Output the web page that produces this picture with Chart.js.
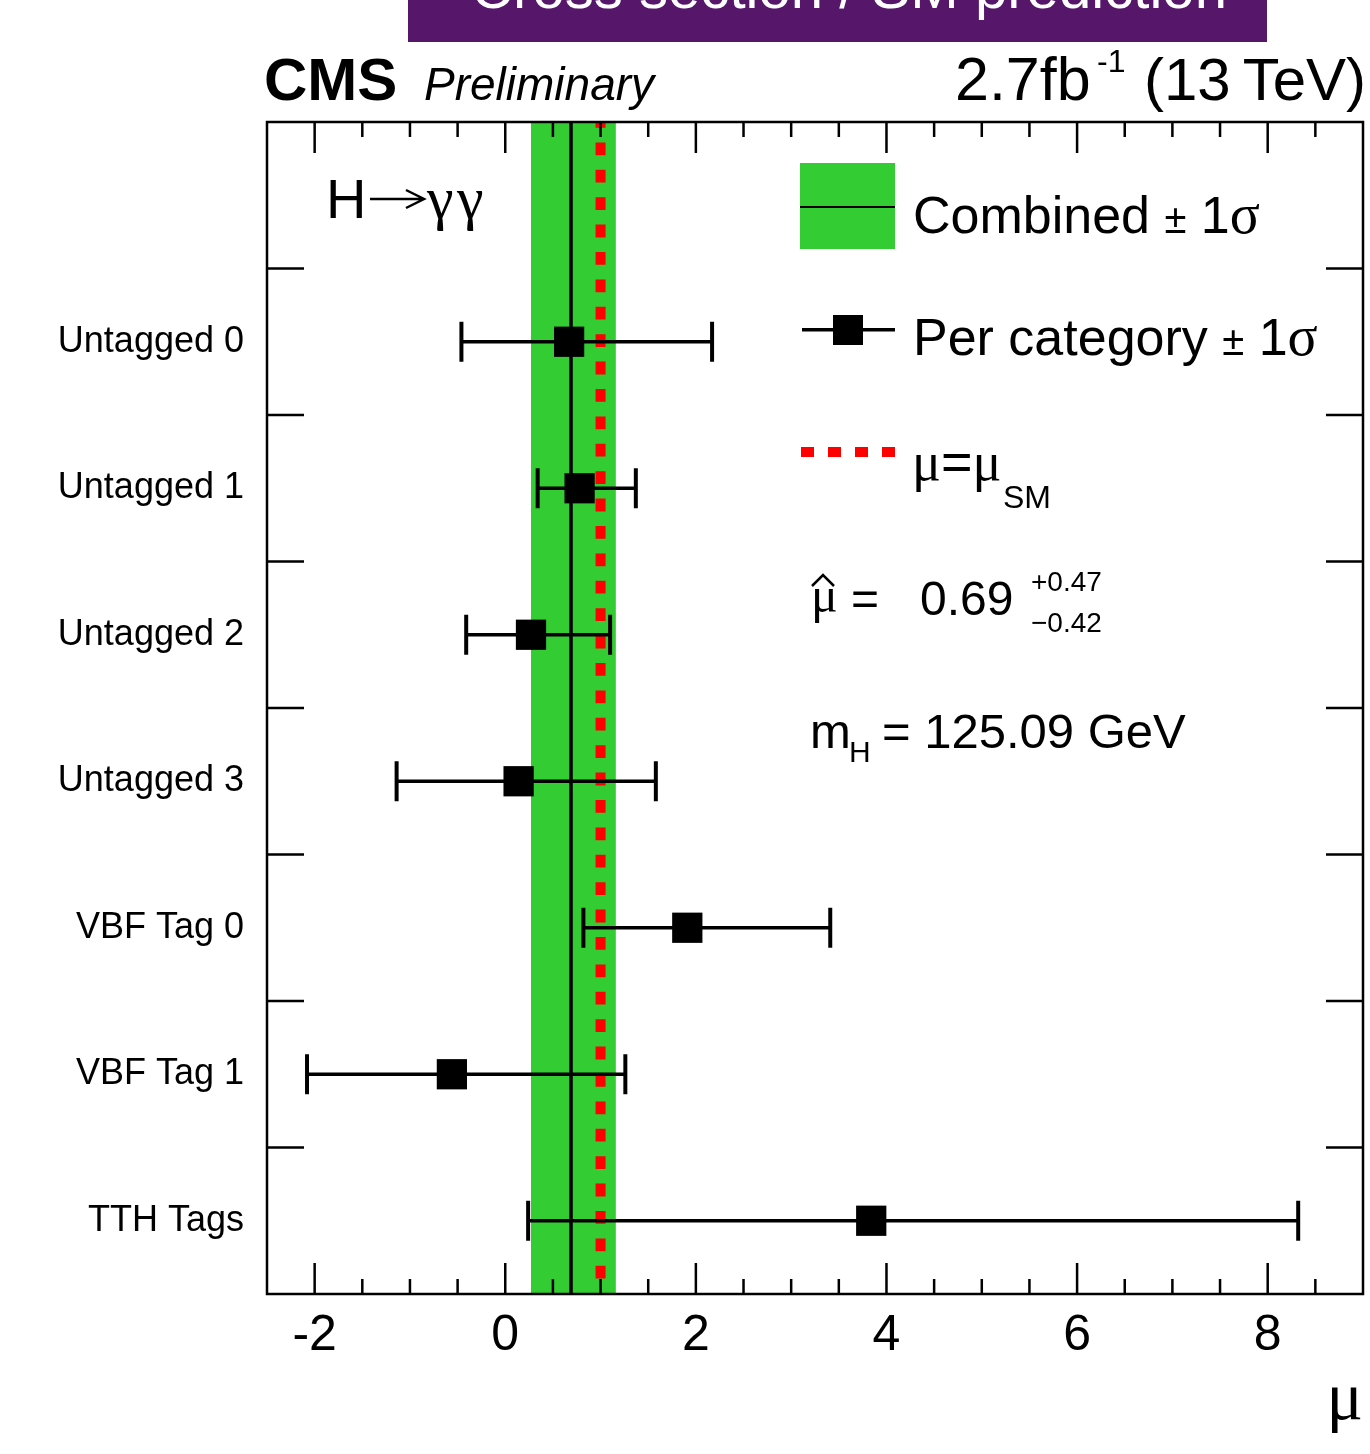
<!DOCTYPE html>
<html>
<head>
<meta charset="utf-8">
<script src="https://cdn.jsdelivr.net/npm/chart.js@4.4.1/dist/chart.umd.min.js"></script>
<style>
  html, body { margin: 0; padding: 0; background: #fff; }
  #c { display: block; }
</style>
</head>
<body>
<canvas id="c" width="1370" height="1454"></canvas>
<script>
// per-category signal strengths
const categories = ['Untagged 0', 'Untagged 1', 'Untagged 2', 'Untagged 3', 'VBF Tag 0', 'VBF Tag 1', 'TTH Tags'];
const muBest = [0.67, 0.78, 0.27, 0.14, 1.91, -0.56, 3.84];
const muLow  = [-0.46, 0.34, -0.41, -1.14, 0.82, -2.08, 0.24];
const muHigh = [2.17, 1.37, 1.10, 1.58, 3.41, 1.26, 8.32];

const combined = 0.69;
const combinedUp = 0.47;
const combinedDown = 0.42;
const muSM = 1;
const xTicks = [-2, 0, 2, 4, 6, 8];

const SANS = '"Liberation Sans", Arial, Helvetica, sans-serif';
const SERIF = '"Liberation Serif", "Times New Roman", serif';
const GREEN = '#33cc33';

// row 0 is left empty for the legend, categories fill rows 1..7
const rowOf = i => i + 1.5;
const nRows = categories.length + 1;

const datasets = [];
// squares on top
datasets.push({
  type: 'scatter',
  data: categories.map((c, i) => ({x: muBest[i], y: rowOf(i)})),
  pointStyle: 'rect',
  pointRadius: 21.4,
  pointBackgroundColor: '#000',
  pointBorderWidth: 0,
  order: 1
});
// error bars with caps
categories.forEach((c, i) => {
  datasets.push({
    type: 'line',
    data: [{x: muLow[i], y: rowOf(i)}, {x: muHigh[i], y: rowOf(i)}],
    borderColor: '#000',
    borderWidth: 3.5,
    pointStyle: 'line',
    rotation: 90,
    pointRadius: 20,
    pointBorderWidth: 4,
    pointBorderColor: '#000',
    order: 2
  });
});
// SM expectation
datasets.push({
  type: 'line',
  data: [{x: muSM, y: 0}, {x: muSM, y: nRows}],
  borderColor: '#ff0000',
  borderWidth: 10,
  borderDash: [12.8, 14.6],
  borderDashOffset: 7,
  borderCapStyle: 'butt',
  pointRadius: 0,
  order: 3
});
// combined best fit
datasets.push({
  type: 'line',
  data: [{x: combined, y: 0}, {x: combined, y: nRows}],
  borderColor: '#000',
  borderWidth: 3.5,
  pointRadius: 0,
  order: 4
});

// green +-1 sigma band behind everything
const bandPlugin = {
  id: 'band',
  beforeDatasetsDraw(chart) {
    const {ctx, chartArea: a, scales: {x}} = chart;
    const x0 = x.getPixelForValue(combined - combinedDown);
    const x1 = x.getPixelForValue(combined + combinedUp);
    ctx.save();
    ctx.fillStyle = GREEN;
    ctx.fillRect(x0, a.top, x1 - x0, a.bottom - a.top);
    ctx.restore();
  }
};

// frame and inward ticks, ROOT style
const framePlugin = {
  id: 'frame',
  afterDatasetsDraw(chart) {
    const {ctx, chartArea: a, scales: {x, y}} = chart;
    ctx.save();
    ctx.strokeStyle = '#000';
    ctx.lineWidth = 2.5;
    ctx.beginPath();
    for (let v = -2; v < 9; v += 0.5) {
      const px = x.getPixelForValue(v);
      const len = (v % 2 === 0) ? 31 : 15;
      ctx.moveTo(px, a.top); ctx.lineTo(px, a.top + len);
      ctx.moveTo(px, a.bottom); ctx.lineTo(px, a.bottom - len);
    }
    for (let r = 1; r < nRows; r++) {
      const py = y.getPixelForValue(r);
      ctx.moveTo(a.left, py); ctx.lineTo(a.left + 37, py);
      ctx.moveTo(a.right, py); ctx.lineTo(a.right - 37, py);
    }
    ctx.stroke();
    ctx.strokeRect(a.left, a.top, a.right - a.left, a.bottom - a.top);
    ctx.restore();
  }
};

function runs(ctx, x, y, parts) {
  for (const [t, f, dy] of parts) {
    ctx.font = f;
    ctx.fillText(t, x, y + (dy || 0));
    x += ctx.measureText(t).width;
  }
  return x;
}

const textPlugin = {
  id: 'texts',
  afterDraw(chart) {
    const ctx = chart.ctx;
    ctx.save();
    ctx.textBaseline = 'alphabetic';
    ctx.textAlign = 'left';

    // banner cut at the top
    ctx.fillStyle = '#56166a';
    ctx.fillRect(408, 0, 859, 42);
    ctx.fillStyle = '#fff';
    const bt = 'Cross section / SM prediction';
    ctx.font = '56px ' + SANS;
    const bs = 56 * 756 / ctx.measureText(bt).width;
    ctx.font = bs + 'px ' + SANS;
    ctx.textAlign = 'center';
    ctx.fillText(bt, 849, 8);
    ctx.textAlign = 'left';

    ctx.fillStyle = '#000';
    // CMS Preliminary
    ctx.font = 'bold 60px ' + SANS;
    ctx.fillText('CMS', 264, 100);
    ctx.font = 'italic 46px ' + SANS;
    ctx.fillText('Preliminary', 424, 100);

    // luminosity
    ctx.font = '61px ' + SANS;
    ctx.fillText('2.7fb', 955, 100);
    ctx.font = '32px ' + SANS;
    ctx.fillText('-1', 1097, 72);
    ctx.font = '60px ' + SANS;
    ctx.textAlign = 'right';
    ctx.fillText('(13\u2009TeV)', 1366, 100);
    ctx.textAlign = 'left';

    // H -> gamma gamma
    ctx.font = '56px ' + SANS;
    ctx.fillText('H', 326, 218);
    ctx.lineWidth = 2.5;
    ctx.strokeStyle = '#000';
    ctx.beginPath();
    ctx.moveTo(370, 199); ctx.lineTo(424, 199);
    ctx.moveTo(406, 190); ctx.lineTo(424, 199); ctx.lineTo(406, 208);
    ctx.stroke();
    ctx.font = '60px ' + SERIF;
    ctx.fillText('\u03b3', 427, 218);
    ctx.fillText('\u03b3', 457, 218);

    // legend: combined
    ctx.fillStyle = GREEN;
    ctx.fillRect(800, 163, 95, 86);
    ctx.fillStyle = '#000';
    ctx.fillRect(800, 206, 95, 2);
    runs(ctx, 913, 233, [['Combined ', '52px ' + SANS], ['\u00b1', '40px ' + SANS], [' 1', '52px ' + SANS], ['\u03c3', '56px ' + SERIF]]);

    // legend: per category
    ctx.fillRect(802, 328, 93, 3.5);
    ctx.fillRect(833, 315, 30, 30);
    runs(ctx, 913, 355, [['Per category ', '52px ' + SANS], ['\u00b1', '40px ' + SANS], [' 1', '52px ' + SANS], ['\u03c3', '56px ' + SERIF]]);

    // legend: SM
    ctx.fillStyle = '#ff0000';
    for (let k = 0; k < 4; k++) ctx.fillRect(801 + k * 27, 447, 13, 10);
    ctx.fillStyle = '#000';
    runs(ctx, 912, 480, [['\u03bc', '54px ' + SERIF], ['=', '54px ' + SANS], ['\u03bc', '54px ' + SERIF]]);
    runs(ctx, 1003, 508, [['SM', '32px ' + SANS]]);

    // best fit value
    ctx.font = '50px ' + SERIF;
    ctx.fillText('\u03bc', 811, 612);
    ctx.lineWidth = 2.5;
    ctx.beginPath();
    ctx.moveTo(812, 586); ctx.lineTo(823, 575); ctx.lineTo(834, 586);
    ctx.stroke();
    ctx.font = '48px ' + SANS;
    ctx.fillText('=', 851, 615);
    ctx.fillText(combined.toFixed(2), 920, 615);
    ctx.font = '28px ' + SANS;
    ctx.fillText('+' + combinedUp.toFixed(2), 1031, 591);
    ctx.fillText('\u2212' + combinedDown.toFixed(2), 1031, 632);

    // Higgs mass
    ctx.font = '49px ' + SANS;
    ctx.fillText('m', 810, 748);
    ctx.font = '30px ' + SANS;
    ctx.fillText('H', 849, 762);
    ctx.font = '49px ' + SANS;
    ctx.fillText('= 125.09 GeV', 882, 748);

    ctx.restore();
  }
};

new Chart(document.getElementById('c'), {
  type: 'scatter',
  data: {datasets},
  plugins: [bandPlugin, framePlugin, textPlugin],
  options: {
    responsive: false,
    animation: false,
    devicePixelRatio: 1,
    layout: {autoPadding: false, padding: {left: 0, right: 7, top: 122, bottom: 0}},
    plugins: {legend: {display: false}, tooltip: {enabled: false}},
    scales: {
      x: {
        type: 'linear', min: -2.5, max: 9,
        afterBuildTicks: s => { s.ticks = xTicks.map(v => ({value: v})); },
        afterFit: s => { s.height = 160; s.paddingLeft = 0; s.paddingRight = 0; },
        grid: {display: false, drawTicks: false},
        border: {display: false},
        ticks: {color: '#000', font: {family: SANS, size: 50}, padding: 12, maxRotation: 0, autoSkip: false},
        title: {display: true, text: '\u03bc', align: 'end', color: '#000', font: {family: SERIF, size: 68}, padding: {top: 0, bottom: 12}}
      },
      y: {
        type: 'linear', min: 0, max: nRows, reverse: true,
        afterBuildTicks: s => { s.ticks = categories.map((c, i) => ({value: rowOf(i)})); },
        afterFit: s => { s.width = 267; s.paddingTop = 0; s.paddingBottom = 0; },
        grid: {display: false, drawTicks: false},
        border: {display: false},
        ticks: {color: '#000', font: {family: SANS, size: 36}, padding: 23, autoSkip: false,
                callback: (v, i) => categories[i]}
      }
    }
  }
});
</script>
</body>
</html>
